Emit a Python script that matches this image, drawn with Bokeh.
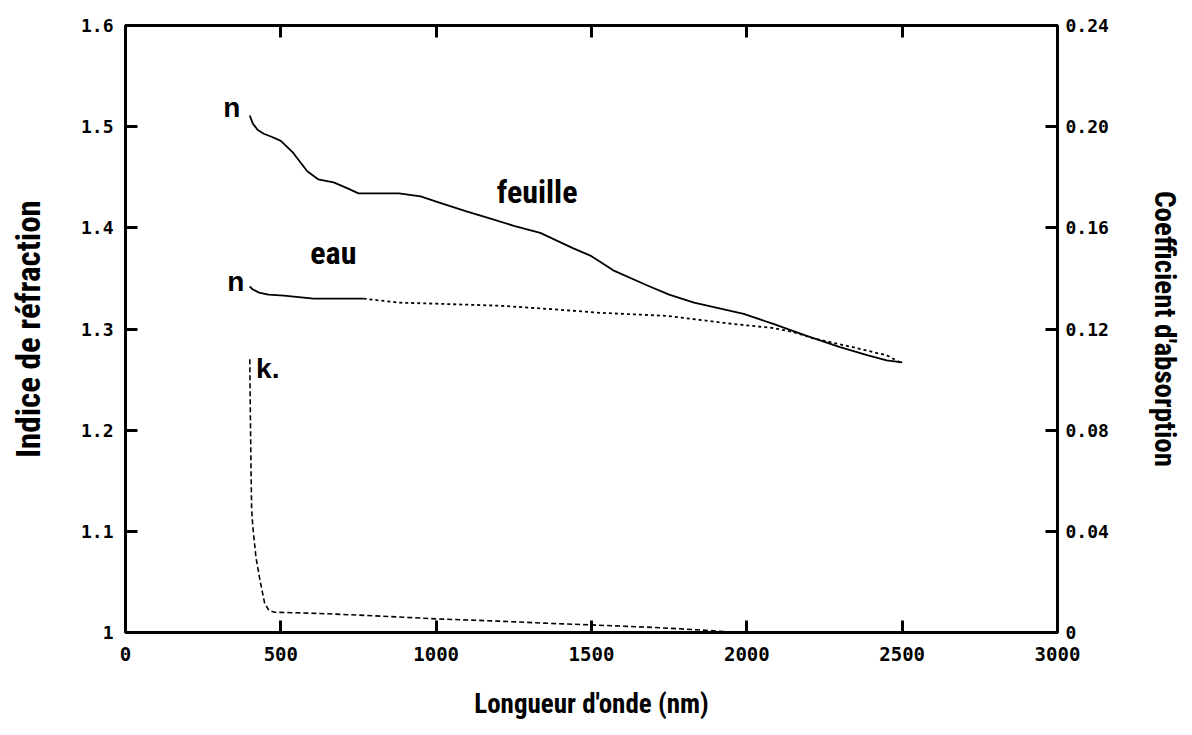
from bokeh.plotting import figure
from bokeh.models import Range1d, LinearAxis, FixedTicker, Label
from bokeh.embed import file_html
from bokeh.resources import INLINE

# ---------------- data ----------------
# refractive index of the leaf ("feuille")
wl_leaf = [400, 410, 425, 445, 470, 500, 540, 585, 620, 670, 715, 750, 800,
           880, 950, 1010, 1100, 1175, 1250, 1335, 1440, 1500, 1570, 1680,
           1750, 1830, 1990, 2085, 2195, 2300, 2390, 2450, 2500]
n_leaf = [1.511, 1.503, 1.497, 1.493, 1.490, 1.486, 1.474, 1.456, 1.448,
          1.445, 1.439, 1.434, 1.434, 1.434, 1.431, 1.425, 1.416, 1.409,
          1.402, 1.395, 1.380, 1.372, 1.358, 1.343, 1.334, 1.326, 1.315,
          1.305, 1.293, 1.282, 1.274, 1.269, 1.267]

# refractive index of water ("eau")
wl_water = [400, 410, 430, 460, 510, 605, 700, 766, 884, 1000, 1206, 1400,
            1527, 1743, 1955, 2084, 2150, 2212, 2341, 2450, 2500]
n_water = [1.342, 1.339, 1.336, 1.334, 1.333, 1.330, 1.330, 1.330, 1.326,
           1.325, 1.323, 1.319, 1.316, 1.313, 1.305, 1.301, 1.297, 1.291,
           1.282, 1.274, 1.266]
water_solid_until = 766   # the water curve is drawn solid up to here, dotted after

# absorption coefficient of water (right axis)
wl_k = [400, 402, 404, 406, 410, 420, 433, 448, 462, 480, 550, 650, 800,
        1000, 1200, 1366, 1500, 1700, 1850, 1950, 2000]
k_water = [0.108, 0.085, 0.065, 0.049, 0.0415, 0.0297, 0.0206, 0.0115,
           0.0087, 0.0080, 0.0078, 0.0074, 0.0066, 0.0054, 0.0045, 0.0036,
           0.0030, 0.0020, 0.0010, 0.0002, 0.0]

# axes
x_ticks = [0, 500, 1000, 1500, 2000, 2500, 3000]
x_tick_labels = ["0", "500", "1000", "1500", "2000", "2500", "3000"]
n_ticks = [1.0, 1.1, 1.2, 1.3, 1.4, 1.5, 1.6]
n_tick_labels = ["1", "1.1", "1.2", "1.3", "1.4", "1.5", "1.6"]
k_ticks = [0.0, 0.04, 0.08, 0.12, 0.16, 0.20, 0.24]
k_tick_labels = ["0", "0.04", "0.08", "0.12", "0.16", "0.20", "0.24"]

x_title = "Longueur d'onde (nm)"
n_title = "Indice de réfraction"
k_title = "Coefficient d'absorption"

# in-plot annotations
sym_text = ["n", "n", "k."]
sym_x = [342, 355, 458]
sym_y = [1.519, 1.3465, 1.261]
name_text = ["feuille", "eau"]
name_x = [1325, 669]
name_y = [1.435, 1.375]

# ---------------- figure ----------------
TITLEFONT = "Roboto Condensed"
TICKFONT = "DejaVu Sans Mono"

p = figure(width=1184, height=727,
           x_range=Range1d(0, 3000), y_range=Range1d(1.0, 1.6),
           output_backend="svg", toolbar_location=None,
           min_border_left=125, min_border_right=126,
           min_border_top=25, min_border_bottom=95,
           background_fill_color="white", border_fill_color="white",
           outline_line_color="black", outline_line_width=3)
p.extra_y_ranges = {"k": Range1d(0, 0.24)}
p.xgrid.visible = False
p.ygrid.visible = False


def style_axis(ax, ticks, labels, size, standoff, title_size):
    ax.ticker = FixedTicker(ticks=ticks)
    ax.major_label_overrides = dict(zip(ticks, labels))
    ax.axis_line_color = None
    ax.major_tick_in = 12
    ax.major_tick_out = 0
    ax.major_tick_line_width = 3
    ax.major_tick_line_color = "black"
    ax.minor_tick_line_color = None
    ax.major_label_text_font = TICKFONT
    ax.major_label_text_font_style = "bold"
    ax.major_label_text_font_size = size
    ax.major_label_text_color = "black"
    ax.major_label_standoff = standoff
    ax.axis_label_text_font = TITLEFONT
    ax.axis_label_text_font_style = "bold"
    ax.axis_label_text_font_size = title_size
    ax.axis_label_text_color = "black"


xax = p.xaxis[0]
style_axis(xax, x_ticks, x_tick_labels, "19px", 14, "27px")
xax.axis_label = x_title
xax.axis_label_standoff = 24

yax = p.yaxis[0]
style_axis(yax, n_ticks, n_tick_labels, "18px", 12, "33px")
yax.axis_label = n_title
yax.axis_label_standoff = 30

rax = LinearAxis(y_range_name="k")
style_axis(rax, k_ticks, k_tick_labels, "18px", 8, "29px")
rax.axis_label = k_title
rax.axis_label_standoff = 36
p.add_layout(rax, "right")

tax = LinearAxis()
style_axis(tax, x_ticks, x_tick_labels, "10px", 0, "10px")
tax.major_label_text_alpha = 0.0
p.add_layout(tax, "above")

# ---------------- curves ----------------
p.line(wl_leaf, n_leaf, line_color="black", line_width=1.8)

ws_x = [w for w in wl_water if w <= water_solid_until]
ws_y = [n for w, n in zip(wl_water, n_water) if w <= water_solid_until]
wd_x = [w for w in wl_water if w >= water_solid_until]
wd_y = [n for w, n in zip(wl_water, n_water) if w >= water_solid_until]
p.line(ws_x, ws_y, line_color="black", line_width=1.8)
p.line(wd_x, wd_y, line_color="black", line_width=1.8, line_dash="3 3")

p.line(wl_k, k_water, y_range_name="k", line_color="black", line_width=1.6,
       line_dash="5 3")

# ---------------- annotations ----------------
for t, x, y in zip(sym_text, sym_x, sym_y):
    p.add_layout(Label(x=x, y=y, text=t, text_align="center",
                       text_baseline="middle", text_font="Liberation Sans",
                       text_font_style="bold", text_font_size="28px",
                       text_color="black"))
for t, x, y in zip(name_text, name_x, name_y):
    p.add_layout(Label(x=x, y=y, text=t, text_align="center",
                       text_baseline="middle", text_font=TITLEFONT,
                       text_font_style="bold", text_font_size="32px",
                       text_color="black"))

open("out.html", "w").write(file_html(p, INLINE))
